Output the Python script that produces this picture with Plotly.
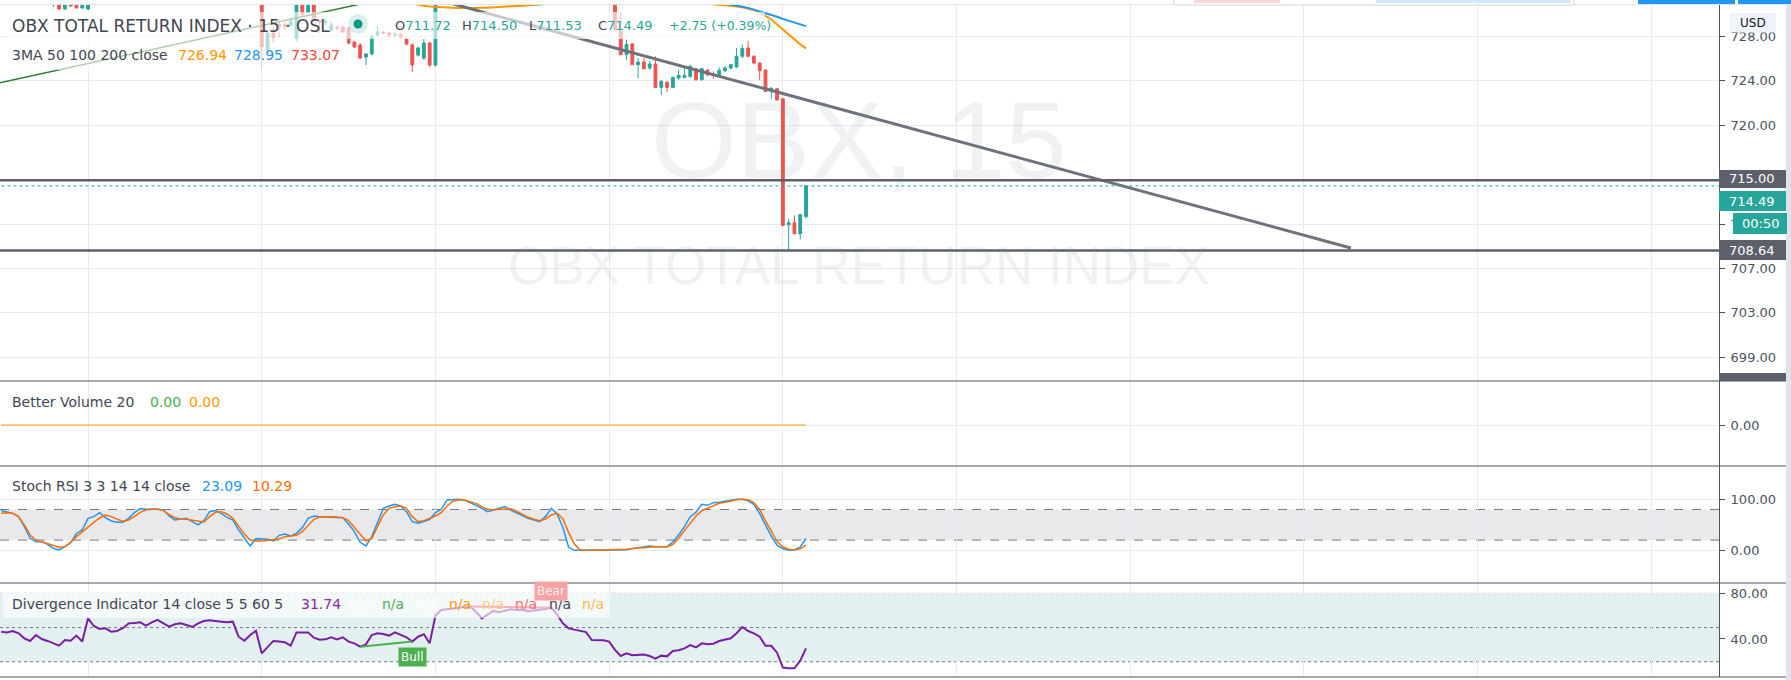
import plotly.graph_objects as go

# ---------------- data ----------------
bar_count = 140
bar_index = list(range(bar_count))

# candles that are (at least partly) inside the visible price window
candle_idx = [9, 10, 11, 12, 13, 14, 15,
              45, 46, 47, 48, 49, 50, 51, 52, 53, 54, 55, 56, 57, 58, 59, 60,
              61, 62, 63, 64, 65, 66, 67, 68, 69, 70, 71, 72, 73, 74, 75,
              106, 107, 108, 109, 110, 111, 112, 113, 114, 115, 116, 117, 118, 119, 120,
              121, 122, 123, 124, 125, 126, 127, 128, 129, 130, 131, 132, 133, 134, 135,
              136, 137, 138, 139]
candle_open = [731.6, 731.5, 730.5, 731.4, 731.3, 730.59, 730.5,
               732.5, 726.8, 728.3, 729.1, 729.1, 729.0, 727.85, 731.6, 730.2, 731.5, 729.5, 729.3,
               728.6, 728.87, 728.87, 728.78, 727.51, 727.24, 726.15, 726.43, 728.14, 728.42,
               728.33, 728.14, 728.2, 727.78, 727.24, 726.33, 726.06, 727.42, 725.43,
               732.2, 728.5, 726.37, 727.34, 725.46, 725.70, 725.16, 725.52, 723.40, 723.88,
               723.40, 724.25, 724.31, 724.40, 725.10, 724.10, 724.97, 724.61, 724.55, 724.91,
               725.16, 725.25, 726.22, 726.97, 726.22, 725.61, 724.97, 723.16, 723.28, 722.37,
               710.97, 711.16, 710.16, 711.72]
candle_high = [731.9, 731.8, 731.6, 731.7, 731.6, 731.5, 731.8,
               733.0, 728.6, 728.87, 729.6, 729.3, 729.7, 731.5, 731.9, 731.6, 731.8, 729.5, 729.6,
               729.4, 729.0, 729.05, 728.87, 727.6, 727.42, 726.52, 728.24, 728.96, 728.5,
               728.4, 728.42, 728.3, 727.96, 727.42, 727.1, 727.78, 727.51, 731.6,
               732.6, 730.2, 727.73, 727.4, 726.07, 726.07, 725.82, 726.22, 724.10, 723.94,
               724.37, 725.0, 725.31, 725.46, 725.16, 725.10, 725.04, 724.85, 725.22, 725.31,
               725.52, 726.97, 727.28, 727.58, 726.31, 725.67, 725.04, 723.40, 723.34, 722.43,
               711.52, 711.82, 711.97, 714.50]
candle_low = [730.68, 730.41, 730.4, 730.7, 730.55, 730.5, 730.4,
              725.0, 726.3, 727.42, 727.9, 728.6, 728.8, 727.6, 729.8, 730.0, 729.4, 728.33, 729.0,
              728.4, 728.6, 728.33, 727.3, 726.97, 725.97, 725.43, 726.3, 728.0, 728.2,
              727.9, 727.96, 727.8, 727.2, 724.8, 726.2, 725.88, 725.25, 725.3,
              728.5, 726.3, 725.91, 725.46, 724.25, 725.0, 725.0, 723.34, 722.73, 722.97,
              723.34, 724.10, 724.25, 724.25, 724.0, 724.0, 724.40, 724.19, 724.49, 724.79,
              725.04, 725.16, 726.07, 726.13, 725.52, 724.10, 722.97, 722.37, 722.19, 710.85,
              708.64, 710.10, 709.64, 711.53]
candle_close = [731.4, 730.5, 731.3, 730.77, 730.59, 731.2, 731.5,
                727.06, 728.3, 727.9, 728.9, 728.9, 729.4, 731.2, 730.0, 731.3, 729.68, 729.3, 729.4,
                729.05, 728.78, 728.42, 727.42, 727.06, 726.06, 726.43, 727.96, 728.42, 728.33,
                728.14, 728.2, 727.96, 727.33, 725.43, 726.97, 727.42, 725.43, 731.3,
                728.64, 726.37, 727.28, 725.46, 725.70, 725.10, 725.52, 723.40, 723.94, 723.40,
                724.31, 724.49, 724.49, 725.31, 724.10, 725.10, 724.55, 724.49, 724.94, 725.16,
                725.46, 726.22, 726.91, 726.22, 725.61, 724.91, 723.04, 723.34, 722.28, 710.91,
                711.16, 710.16, 711.88, 714.49]

# moving averages (only the stretches that dip into the visible window)
ma50_idx = [71, 72, 73, 74, 75, 76, 77, 78, 79, 80, 81, 82, 83, 84, 85, 86, 87, 88, 89, 90, 91, 92, 93, 94,
            None,
            122, 123, 124, 125, 126, 127, 128, 129, 130, 131, 132, 133, 134, 135, 136, 137, 138, 139]
ma50_val = [731.0, 730.86, 730.78, 730.72, 730.68, 730.65, 730.62, 730.6, 730.59, 730.58, 730.58, 730.59,
            730.6, 730.62, 730.64, 730.67, 730.7, 730.73, 730.77, 730.8, 730.83, 730.86, 730.9, 731.0,
            None,
            731.0, 730.9, 730.86, 730.84, 730.8, 730.72, 730.65, 730.55, 730.4, 730.2, 729.9, 729.55,
            729.1, 728.65, 728.15, 727.7, 727.3, 726.94]
ma100_idx = [125, 126, 127, 128, 129, 130, 131, 132, 133, 134, 135, 136, 137, 138, 139]
ma100_val = [731.0, 730.92, 730.8, 730.7, 730.6, 730.45, 730.3, 730.15, 730.0, 729.8, 729.6, 729.45,
             729.25, 729.1, 728.95]

# drawings on the price pane (bar index, price)
green_trend_x = [-1, 70]
green_trend_y = [723.74, 731.86]
gray_trend_x = [70, 233.1]
gray_trend_y = [732.1, 708.87]
level_prices = [715.00, 708.64]
last_price = 714.49

# Better Volume 20 (legend shows 0.00 for every bar)
volume = [0.0] * bar_count

# Stoch RSI 3 3 14 14
stoch_k = [78, 76, 72.5, 66, 46.4, 23.5, 17, 17, 11.7, 3.9, 0.6, 7, 15, 33, 39.9, 62.7, 66, 73.8, 64, 57.5,
           54.9, 54.9, 62.7, 73.8, 81.7, 80.4, 80.4, 81, 79, 67.3, 59.5, 60.8, 62.7, 56.2, 49.7, 58.2, 75.8,
           77.8, 72.5, 64.7, 59.5, 39.9, 24.8, 8.5, 22.9, 22.9, 21.6, 18.3, 29.4, 32, 28.1, 33.3, 44.4, 62.7,
           67.3, 66, 65.3, 64, 64, 64, 51.6, 36.6, 15.7, 8.5, 26.8, 56.2, 82.3, 86.9, 90.2, 86.9, 75.8, 56.2,
           52.9, 56.2, 60.8, 73.8, 80.4, 98.7, 100, 100, 98.7, 94.1, 88.2, 82.3, 75.8, 79, 82.3, 85.6, 79,
           73.8, 68.6, 62.7, 59.5, 56.2, 66, 82.3, 71.2, 45.1, 5.9, 0, 0, 0, 0, 0.6, 0.6, 1.3, 0.6, 0, 1.3,
           3.3, 5.2, 6.5, 8.5, 7.2, 7.2, 7.2, 16.3, 30, 46.4, 66, 74.5, 90.2, 88.2, 93.4, 94.1, 96.1, 98.7,
           100, 100, 97, 90, 72, 50, 28, 10, 3, 0, 1, 6, 23.09]
stoch_d = [72.5, 73.8, 72.5, 66, 49.7, 30, 20.2, 16.3, 13, 8.5, 5.9, 7.2, 15.7, 26.8, 36.6, 46.4, 54.9, 63.4,
           69.3, 66, 60.8, 56.8, 59.5, 66, 74.5, 79, 80.4, 80.4, 77.8, 69.9, 64, 61.4, 60.8, 58.8, 56.2, 55.5,
           66, 74.5, 75.8, 71.2, 62.7, 46.4, 32, 20.2, 18.3, 18.3, 19.6, 20.2, 22.2, 26.8, 28.7, 29.4, 36.6,
           49.7, 60.8, 65.3, 66, 66, 65.3, 64, 58.2, 45.1, 30, 18.3, 23.5, 46.4, 69.3, 82.3, 85.6, 86.9, 82.3,
           66, 56.2, 58.2, 62.1, 67.3, 73.8, 86.9, 96.1, 99.3, 98.7, 95.4, 92.1, 85.6, 80.4, 79.7, 80.4, 81,
           81.7, 76.5, 69.9, 64.7, 60.8, 58.2, 61.4, 69.3, 72.5, 62.1, 34.6, 12.4, 0.6, 0, 0, 0, 0.6, 0.6,
           0.6, 0.6, 2, 3.3, 4.6, 5.9, 7.2, 7.2, 7.2, 7.2, 11.7, 23.5, 38.5, 52.9, 67.3, 77.8, 82.3, 87.6,
           92.1, 94.1, 96.7, 99, 100, 99, 93, 80, 58, 36, 17, 7, 2, 0.6, 3, 10.29]

# Divergence Indicator (RSI 14)
div_rsi = [46.4, 45.8, 47.0, 45.0, 40.6, 38.3, 43.5, 40.0, 38.3, 36.2, 34.2, 39.1, 38.5, 43.0, 37.7, 58.1,
           51.4, 48.8, 49.4, 46.4, 47.0, 49.4, 53.7, 54.0, 54.6, 51.7, 54.6, 56.7, 53.7, 50.8, 52.9, 53.7,
           52.3, 50.5, 53.7, 55.8, 56.4, 56.1, 55.2, 54.6, 55.2, 42.0, 38.5, 43.5, 47.3, 27.4, 33.3, 38.3,
           37.7, 37.1, 34.2, 45.8, 45.8, 45.8, 41.2, 39.4, 39.7, 41.5, 39.7, 41.5, 37.7, 36.2, 33.3, 35.3,
           43.5, 45.0, 44.4, 43.0, 45.8, 43.5, 41.5, 37.7, 42.0, 44.1, 36.2, 60.5, 65.4, 66.0, 66.9, 67.8,
           68.1, 68.4, 64.0, 58.1, 61.6, 64.6, 63.4, 64.6, 66.0, 65.4, 65.7, 64.3, 64.8, 65.7, 66.3, 67.5,
           61.6, 53.7, 49.4, 48.2, 47.0, 46.1, 39.1, 39.1, 38.8, 37.7, 30.4, 25.1, 27.4, 25.7, 26.0, 26.3,
           25.1, 22.8, 25.4, 24.8, 29.5, 30.1, 31.8, 34.7, 32.7, 36.2, 35.3, 35.9, 38.2, 39.7, 40.6, 45.0,
           50.5, 47.0, 45.0, 42.0, 34.0, 34.0, 28.0, 15.0, 14.3, 14.3, 21.0, 31.74]
bull_x = [62, 71]
bull_y = [33.3, 37.7]
bear_x = [81, 95]
bear_y = [68.4, 67.5]

main_ticks = [699, 703, 707, 711, 720, 724, 728]
# the 711 label is hidden behind the countdown badge; only its first digit peeks out
main_tick_text = ["699.00", "703.00", "707.00", "7", "720.00", "724.00", "728.00"]
day_lines = [15, 45, 75, 105, 135, 165, 195, 225, 255, 285]

# ---------------- styling / layout helpers ----------------
FONT = "DejaVu Sans"
W, H = 1791, 680
PLOT_W = 1719
UP, DOWN = "#26a69a", "#ef5350"
GRID = "#e6ebf1"
DARK = "#50535e"
TXT = "#434651"


def px(x):
    return x / PLOT_W


def py(y):
    return 1 - y / H


X_RANGE = [-0.207, 296.68]

fig = go.Figure()

fig.add_trace(go.Candlestick(
    x=candle_idx, open=candle_open, high=candle_high, low=candle_low, close=candle_close,
    increasing=dict(line=dict(color=UP, width=1), fillcolor=UP),
    decreasing=dict(line=dict(color=DOWN, width=1), fillcolor=DOWN),
    whiskerwidth=0, xaxis="x", yaxis="y", showlegend=False, hoverinfo="skip"))

fig.add_trace(go.Scatter(x=ma50_idx, y=ma50_val, mode="lines", line=dict(color="#ff9800", width=2),
                         connectgaps=False, xaxis="x", yaxis="y", showlegend=False))
fig.add_trace(go.Scatter(x=ma100_idx, y=ma100_val, mode="lines", line=dict(color="#2196f3", width=2),
                         xaxis="x", yaxis="y", showlegend=False))
fig.add_trace(go.Scatter(x=green_trend_x, y=green_trend_y, mode="lines",
                         line=dict(color="#2e7d32", width=1.5), xaxis="x", yaxis="y", showlegend=False))
fig.add_trace(go.Scatter(x=gray_trend_x, y=gray_trend_y, mode="lines",
                         line=dict(color="#6f727d", width=3), xaxis="x", yaxis="y", showlegend=False))
for lv in level_prices:
    fig.add_trace(go.Scatter(x=[-1, 300], y=[lv, lv], mode="lines", line=dict(color="#5d606b", width=2.5),
                             xaxis="x", yaxis="y", showlegend=False))
fig.add_trace(go.Scatter(x=[-1, 300], y=[last_price, last_price], mode="lines",
                         line=dict(color=UP, width=1, dash="dot"), xaxis="x", yaxis="y", showlegend=False))

# volume pane
fig.add_trace(go.Scatter(x=bar_index, y=volume, mode="lines", line=dict(color="#ff9800", width=1),
                         xaxis="x2", yaxis="y2", showlegend=False))
# stoch pane
fig.add_trace(go.Scatter(x=bar_index, y=stoch_k, mode="lines", line=dict(color="#2196f3", width=1.5),
                         xaxis="x3", yaxis="y3", showlegend=False))
fig.add_trace(go.Scatter(x=bar_index, y=stoch_d, mode="lines", line=dict(color="#ff6d00", width=1.5),
                         xaxis="x3", yaxis="y3", showlegend=False))
# divergence pane
fig.add_trace(go.Scatter(x=bar_index, y=div_rsi, mode="lines", line=dict(color="#7b1fa2", width=2),
                         xaxis="x4", yaxis="y4", showlegend=False))
fig.add_trace(go.Scatter(x=bull_x, y=bull_y, mode="lines", line=dict(color="#4caf50", width=2),
                         xaxis="x4", yaxis="y4", showlegend=False))
fig.add_trace(go.Scatter(x=bear_x, y=bear_y, mode="lines", line=dict(color="#f23645", width=2),
                         xaxis="x4", yaxis="y4", showlegend=False))

# ---------------- axes ----------------
panes = {  # (top px, bottom px)
    "": (5, 381), "2": (381, 466), "3": (466, 583), "4": (583, 677)}
y_ranges = {"": [696.833, 730.86], "2": [-0.9647, 1.0353], "3": [-64.1, 165.3], "4": [6.67, 89.1]}
y_ticks = {"": (main_ticks, main_tick_text),
           "2": ([0], ["0.00"]),
           "3": ([0, 100], ["0.00", "100.00"]),
           "4": ([40, 80], ["40.00", "80.00"])}

layout_axes = {}
for k, (top, bot) in panes.items():
    layout_axes["xaxis" + k] = dict(
        domain=[0, 1], range=X_RANGE, anchor="y" + k, showticklabels=False, ticks="",
        tickvals=day_lines, showgrid=True, gridcolor=GRID, gridwidth=1, zeroline=False,
        showline=False, rangeslider=dict(visible=False), automargin=False, fixedrange=True)
    tv, tt = y_ticks[k]
    layout_axes["yaxis" + k] = dict(
        domain=[py(bot), py(top)], range=y_ranges[k], anchor="x" + k, side="right",
        tickvals=tv, ticktext=tt, showgrid=True, gridcolor=GRID, gridwidth=1, zeroline=False,
        showline=True, linecolor=DARK, linewidth=1, ticks="outside", ticklen=5, tickcolor=DARK,
        tickfont=dict(family=FONT, size=13, color="#4c525e"), automargin=False, fixedrange=True,
        ticklabelstandoff=3)

shapes = []
# stoch band + dashed bounds
shapes.append(dict(type="rect", xref="x3 domain", yref="y3", x0=0, x1=1, y0=20, y1=80,
                   fillcolor="#e9e9ec", line=dict(width=0), layer="below"))
for lv in (20, 80):
    shapes.append(dict(type="line", xref="x3 domain", yref="y3", x0=0, x1=1, y0=lv, y1=lv,
                       line=dict(color="#787b86", width=1, dash="dash"), layer="below"))
# divergence band + dotted bounds
shapes.append(dict(type="rect", xref="x4 domain", yref="y4", x0=0, x1=1, y0=20, y1=80,
                   fillcolor="#e2f0f0", line=dict(width=0), layer="below"))
for lv in (20, 50, 80):
    shapes.append(dict(type="line", xref="x4 domain", yref="y4", x0=0, x1=1, y0=lv, y1=lv,
                       line=dict(color="#787b86", width=1, dash="dot"), layer="below"))
# legend backgrounds (semi-transparent)
for (x0, y0, x1, y1) in [(3, 12, 765, 39), (3, 39, 347, 70), (3, 593, 610, 618)]:
    shapes.append(dict(type="rect", xref="paper", yref="paper", x0=px(x0), x1=px(x1), y0=py(y1), y1=py(y0),
                       fillcolor="rgba(255,255,255,0.62)", line=dict(width=0), layer="above"))
# pane separators
for ypx in (381, 466, 583, 677):
    shapes.append(dict(type="line", xref="paper", yref="paper", x0=0, x1=px(1786), y0=py(ypx), y1=py(ypx),
                       line=dict(color=DARK, width=1.2), layer="above"))
# top border line
shapes.append(dict(type="line", xref="paper", yref="paper", x0=0, x1=px(1786), y0=py(4.5), y1=py(4.5),
                   line=dict(color="#e0e3eb", width=1), layer="above"))
# bits of the toolbar peeking in at the top edge
shapes.append(dict(type="rect", xref="paper", yref="paper", x0=px(1174), x1=px(1574), y0=py(5), y1=py(-2),
                   fillcolor="white", line=dict(color="#d1d4dc", width=1), layer="above"))
shapes.append(dict(type="rect", xref="paper", yref="paper", x0=px(1194), x1=px(1280), y0=py(3), y1=py(0),
                   fillcolor="#fbd5d5", line=dict(width=0), layer="above"))
shapes.append(dict(type="rect", xref="paper", yref="paper", x0=px(1376), x1=px(1570), y0=py(3), y1=py(0),
                   fillcolor="#d3e5fb", line=dict(width=0), layer="above"))
for (x0, x1) in [(1638, 1735), (1738, 1791)]:
    shapes.append(dict(type="rect", xref="paper", yref="paper", x0=px(x0), x1=px(x1), y0=py(4), y1=py(0),
                       fillcolor="#2196f3", line=dict(width=0), layer="above"))
# right scrollbar strip
shapes.append(dict(type="rect", xref="paper", yref="paper", x0=px(1786), x1=px(1791), y0=0, y1=py(4),
                   fillcolor="#e0e3eb", line=dict(width=0), layer="above"))
# price-scale label boxes (left, top, right, bottom in px)
label_boxes = [((1719, 170, 1786, 188), "#5d606b"), ((1719, 191, 1786, 211), UP),
               ((1733, 213, 1787, 234), UP), ((1719, 240, 1786, 260), "#5d606b"),
               ((1719, 373, 1786, 381), "#5d606b")]
for (x0, y0, x1, y1), c in label_boxes:
    shapes.append(dict(type="rect", xref="paper", yref="paper", x0=px(x0), x1=px(x1), y0=py(y1), y1=py(y0),
                       fillcolor=c, line=dict(width=0), layer="above"))
# USD badge
shapes.append(dict(type="rect", xref="paper", yref="paper", x0=px(1730), x1=px(1776), y0=py(32.5), y1=py(13),
                   fillcolor="#f0f3fa", line=dict(width=0), layer="above"))
# market-open dot
shapes.append(dict(type="circle", xref="paper", yref="paper", x0=px(348), x1=px(368), y0=py(34), y1=py(14),
                   fillcolor="rgba(8,153,129,0.15)", line=dict(width=0), layer="above"))
shapes.append(dict(type="circle", xref="paper", yref="paper", x0=px(353.5), x1=px(362.5), y0=py(28.5), y1=py(19.5),
                   fillcolor="#089981", line=dict(width=0), layer="above"))

ann = []


def txt(x, y, s, color=TXT, size=14, family=FONT, anchor="left"):
    ann.append(dict(xref="paper", yref="paper", x=px(x), y=py(y), text=s, showarrow=False,
                    xanchor=anchor, yanchor="middle", font=dict(family=family, size=size, color=color)))


# watermark
ann.append(dict(xref="paper", yref="paper", x=px(859), y=py(140), text="OBX, 15", showarrow=False,
                xanchor="center", yanchor="middle",
                font=dict(family="Liberation Sans", size=110, color="rgba(120,123,134,0.11)")))
ann.append(dict(xref="paper", yref="paper", x=px(859), y=py(266), text="OBX TOTAL RETURN INDEX", showarrow=False,
                xanchor="center", yanchor="middle",
                font=dict(family="Liberation Sans", size=53, color="rgba(120,123,134,0.11)")))

# main legend
txt(10, 26, "OBX TOTAL RETURN INDEX · 15 · OSL", size=17)
for x, lab, val in [(393, "O", "711.72"), (460, "H", "714.50"), (527, "L", "711.53"), (596, "C", "714.49")]:
    txt(x, 26, f"{lab}<span style='color:{UP}'>{val}</span>", size=13)
txt(667, 26, "+2.75 (+0.39%)", color=UP, size=12.5)
txt(10, 55, "3MA 50 100 200 close", size=14)
txt(176, 55, "726.94", color="#ff9800", size=14)
txt(232, 55, "728.95", color="#2196f3", size=14)
txt(289, 55, "733.07", color="#f44336", size=14)
# volume legend
txt(10, 402, "Better Volume 20", size=14)
txt(148, 402, "0.00", color="#4caf50", size=14)
txt(187, 402, "0.00", color="#ff9800", size=14)
# stoch legend
txt(10, 486, "Stoch RSI 3 3 14 14 close", size=14)
txt(200, 486, "23.09", color="#2196f3", size=14)
txt(250, 486, "10.29", color="#ff6d00", size=14)
# divergence legend
txt(10, 604, "Divergence Indicator 14 close 5 5 60 5", size=14)
txt(299, 604, "31.74", color="#8e24aa", size=14)
for x, c in [(346, "#ffffff"), (380, "#4caf50"), (413, "#ffffff"), (447, "#ff9800"), (480, "#ffcc80"),
             (513, "#ff6b6b"), (547, "#434651"), (580, "#ffb74d")]:
    txt(x, 604, "n/a", color=c, size=14)

# divergence labels
ann.append(dict(xref="x4", yref="y4", x=bull_x[1], y=bull_y[1], text="Bull", showarrow=False,
                xanchor="center", yanchor="top", yshift=-5, bgcolor="#4caf50", borderpad=2,
                font=dict(family=FONT, size=12, color="white")))
ann.append(dict(xref="x4", yref="y4", x=bear_x[1], y=bear_y[1], text="Bear", showarrow=False,
                xanchor="center", yanchor="bottom", yshift=7, bgcolor="#f6a3a6", borderpad=2,
                font=dict(family=FONT, size=12, color="#fdecec")))

# price scale label texts
txt(1752.5, 179, f"{level_prices[0]:.2f}", color="white", size=13, anchor="center")
txt(1752.5, 201, f"{last_price:.2f}", color="white", size=13, anchor="center")
txt(1760, 223.5, "00:50", color="white", size=13, anchor="center")
txt(1752.5, 250, f"{level_prices[1]:.2f}", color="white", size=13, anchor="center")
txt(1753, 23, "USD", color="#131722", size=12, anchor="center")

fig.update_layout(
    width=W, height=H, margin=dict(l=0, r=W - PLOT_W, t=0, b=0), autosize=False,
    template="none", paper_bgcolor="white", plot_bgcolor="white", showlegend=False,
    font=dict(family=FONT), shapes=shapes, annotations=ann, hovermode=False,
    **layout_axes)

fig.write_html("out.html", config={"displayModeBar": False},
               post_script="document.body.style.margin='0px';")
